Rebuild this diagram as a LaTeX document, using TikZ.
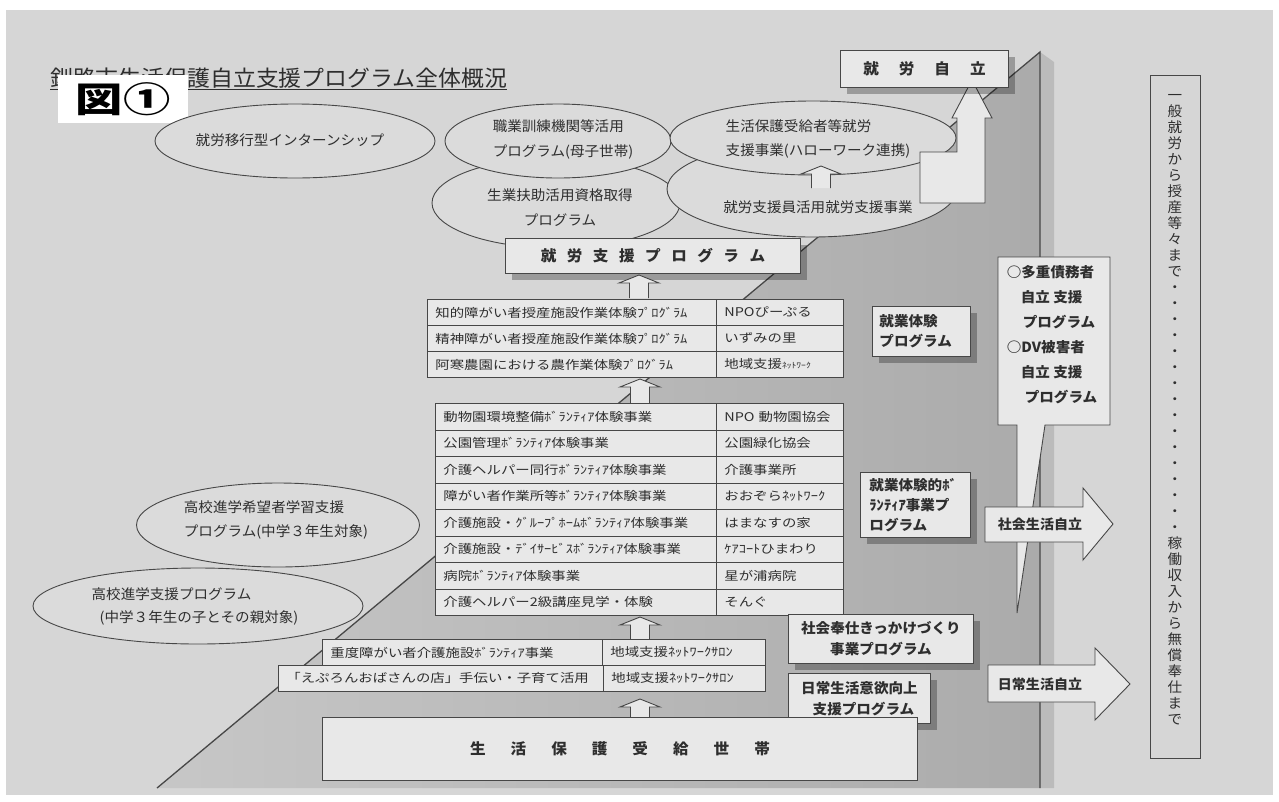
\documentclass[tikz,border=0pt]{standalone}
\usepackage{fontspec}
\setmainfont{Noto Sans CJK JP}[FakeStretch=1.04]
\newfontfamily\tabfont{Noto Sans CJK JP}[FakeStretch=1.2]
\usetikzlibrary{shadows,shapes.geometric}
\definecolor{pagebg}{gray}{0.84}
\definecolor{tria}{gray}{0.78}
\definecolor{trib}{gray}{0.67}
\definecolor{boxc}{gray}{0.91}
\definecolor{ellc}{gray}{0.86}
\definecolor{linec}{gray}{0.28}
\definecolor{txtc}{gray}{0.18}
\newcommand\fsz[2]{\fontsize{#1}{#2}\selectfont}
\newcommand\blkup[3]{\filldraw[blk] (#1-9.5,#2) -- (#1-9.5,#3+8) -- (#1-20,#3+8) -- (#1,#3) -- (#1+20,#3+8) -- (#1+9.5,#3+8) -- (#1+9.5,#2);}
\begin{document}
\begin{tikzpicture}[x=1pt,y=-1pt,
  every node/.style={text=txtc},
  ell/.style={ellipse, draw=linec, fill=ellc, line width=0.9pt, inner sep=0pt},
  etxt/.style={font=\fsz{14}{25}, inner sep=0pt},
  bx/.style={draw=linec, fill=boxc, line width=0.9pt, inner sep=0pt, anchor=north west},
  sbox/.style={bx, drop shadow={shadow xshift=7pt, shadow yshift=-7pt, opacity=0.28, fill=black}},
  btxt/.style={font=\bfseries\fsz{14}{20}},
  blk/.style={draw=linec, fill=boxc, line width=0.9pt, line join=miter},
  cell/.style={draw=linec, fill=boxc, line width=0.8pt, anchor=north west, inner xsep=8pt, inner ysep=0pt, align=left, font=\tabfont\fsz{12}{14}},
  edge/.style={draw=linec, line width=1.3pt}
]
\useasboundingbox (0,0) rectangle (1279,801);
% page
\fill[white] (0,0) rectangle (1279,801);
\fill[pagebg] (6,10) rectangle (1273,795);
% big triangle
\shade[left color=tria, right color=trib] (1040,52) -- (1040,788) -- (157,788) -- cycle;
\fill[black, opacity=0.12] (1040,52) -- (1054,62) -- (1054,788) -- (1040,788) -- cycle;
\coordinate (apex) at (1040,52);
\coordinate (tbl) at (157,788);
\coordinate (tbr) at (1040,788);
\draw[edge] (tbl) -- (apex) -- (tbr);

% right column
\node[bx, fill=pagebg, minimum width=50pt, minimum height=683pt] (rcol) at (1150,75) {};
\node[font=\fsz{14}{16}, align=center, inner sep=0pt] (rcolt) at (1175,410) {一\\般\\就\\労\\か\\ら\\授\\産\\等\\々\\ま\\で\\・\\・\\・\\・\\・\\・\\・\\・\\・\\・\\・\\・\\・\\・\\・\\・\\稼\\働\\収\\入\\か\\ら\\無\\償\\奉\\仕\\ま\\で};

% title
\node[anchor=base west, inner sep=0pt, font=\fsz{22}{22}] (title) at (50,86) {\underline{釧路市生活保護自立支援プログラム全体概況}};
\node[fill=white, anchor=north west, minimum width=130pt, minimum height=48pt, inner sep=0pt, text=black, font=\bfseries\fsz{35}{35}] (zu) at (58,75) {\scalebox{1.3}[1]{図①}};

% ellipses
\node[ell, minimum width=280pt, minimum height=74pt] (e1) at (295,141) {};
\node[etxt] (e1t) at (290,140) {就労移行型インターンシップ};
\node[ell, minimum width=248pt, minimum height=90pt] (e3) at (556,203) {};
\node[etxt, align=center] (e3t) at (560,208) {生業扶助活用資格取得\\プログラム};
\node[ell, minimum width=226pt, minimum height=74pt] (e2) at (558,141) {};
\node[etxt, align=left] (e2t) at (563,139) {職業訓練機関等活用\\プログラム(母子世帯)};
\node[ell, minimum width=290pt, minimum height=96pt] (e5) at (812,189) {};
\node[etxt] (e5t) at (818,207) {就労支援員活用就労支援事業};
\node[ell, minimum width=286pt, minimum height=74pt] (e4) at (813,138) {};
\node[etxt, align=left, font=\fsz{14}{24}] (e4t) at (818,139) {生活保護受給者等就労\\支援事業(ハローワーク連携)};
\blkup{821}{188}{166}

\node[ell, minimum width=283pt, minimum height=84pt] (e6) at (278,525) {};
\node[etxt, align=left, font=\fsz{14}{24}] (e6t) at (276,520) {高校進学希望者学習支援\\プログラム(中学３年生対象)};
\node[ell, minimum width=330pt, minimum height=76pt] (e7) at (198,606) {};
\node[etxt, align=left, font=\fsz{14}{23}] (e7t) at (195,606) {高校進学支援プログラム\\\hspace*{8pt}(中学３年生の子とその親対象)};

% big arrow to 就労自立
\filldraw[blk] (920,203) -- (920,152) -- (957,152) -- (957,118) -- (952,118) -- (972,80) -- (992,118) -- (985,118) -- (985,203) -- cycle;

% 就労自立
\node[sbox, minimum width=168pt, minimum height=37pt, font=\bfseries\fsz{15}{18}] (jiritsu) at (840,50) {就\hspace{20pt}労\hspace{20pt}自\hspace{20pt}立};

% 就労支援プログラム
\node[sbox, minimum width=295pt, minimum height=35pt, font=\bfseries\fsz{15}{18}] (shien) at (505,238) {就\hspace{10.5pt}労\hspace{10.5pt}支\hspace{10.5pt}援\hspace{10.5pt}プ\hspace{10.5pt}ロ\hspace{10.5pt}グ\hspace{10.5pt}ラ\hspace{10.5pt}ム};
\blkup{639}{298}{275}

% table 1
\foreach \l/\r [count=\i from 0] in {知的障がい者授産施設作業体験ﾌﾟﾛｸﾞﾗﾑ/NPOぴーぷる, 精神障がい者授産施設作業体験ﾌﾟﾛｸﾞﾗﾑ/いずみの里, 阿寒農園における農作業体験ﾌﾟﾛｸﾞﾗﾑ/地域支援{\fsz{8}{10}ﾈｯﾄﾜｰｸ}}{
  \node[cell, text width=273pt, minimum height=26pt] (ta\i) at (427,299+26*\i) {\l};
  \node[cell, text width=111pt, minimum height=26pt] (tb\i) at (716,299+26*\i) {\r};
}
\blkup{640}{403}{379}

% table 2
\foreach \l/\r [count=\i from 0] in {動物園環境整備ﾎﾞﾗﾝﾃｨｱ体験事業/NPO 動物園協会, 公園管理ﾎﾞﾗﾝﾃｨｱ体験事業/公園緑化協会, 介護ヘルパー同行ﾎﾞﾗﾝﾃｨｱ体験事業/介護事業所, 障がい者作業所等ﾎﾞﾗﾝﾃｨｱ体験事業/おおぞらﾈｯﾄﾜｰｸ, 介護施設・ｸﾞﾙｰﾌﾟﾎｰﾑﾎﾞﾗﾝﾃｨｱ体験事業/はまなすの家, 介護施設・ﾃﾞｲｻｰﾋﾞｽﾎﾞﾗﾝﾃｨｱ体験事業/ｹｱｺｰﾄひまわり, 病院ﾎﾞﾗﾝﾃｨｱ体験事業/星が浦病院, 介護ヘルパー2級講座見学・体験/そんぐ}{
  \node[cell, text width=265pt, minimum height=26.5pt] (tc\i) at (435,403+26.5*\i) {\l};
  \node[cell, text width=111pt, minimum height=26.5pt] (td\i) at (716,403+26.5*\i) {\r};
}
\blkup{640}{639}{617}

% table 3
\node[cell, text width=264pt, minimum height=26pt] (te0) at (322,639) {重度障がい者介護施設ﾎﾞﾗﾝﾃｨｱ事業};
\node[cell, text width=147pt, minimum height=26pt] (tf0) at (602,639) {地域支援ﾈｯﾄﾜｰｸｻﾛﾝ};
\node[cell, text width=309pt, minimum height=26pt] (te1) at (278,665) {「えぷろんおばさんの店」手伝い・子育て活用};
\node[cell, text width=146pt, minimum height=26pt] (tf1) at (603,665) {地域支援ﾈｯﾄﾜｰｸｻﾛﾝ};
\blkup{640}{717}{699}

% right side boxes
\node[sbox, minimum width=98pt, minimum height=50pt, btxt, align=left, inner xsep=7pt, text width=84pt] (b1) at (872,306) {就業体験\\プログラム};
\node[sbox, minimum width=110pt, minimum height=65pt, btxt, align=left, inner xsep=9pt, text width=92pt] (b2) at (860,472) {就業体験的ﾎﾞ\\ﾗﾝﾃｨｱ事業プ\\ログラム};

% callout
\filldraw[draw=linec, fill=boxc, line width=0.9pt] (998,257) -- (1110,257) -- (1110,425) -- (1045,425) -- (1017,613) -- (1017,425) -- (998,425) -- cycle;
\node[btxt, font=\bfseries\fsz{14}{25}, align=left, inner sep=0pt] (cot) at (1052,335) {○多重債務者\\\hspace*{14pt}自立 支援\\\hspace*{16pt}プログラム\\○DV被害者\\\hspace*{14pt}自立 支援\\\hspace*{18pt}プログラム};

% block arrows right
\filldraw[blk] (985,507) -- (1083,507) -- (1083,488) -- (1113,524) -- (1083,560) -- (1083,542) -- (985,542) -- cycle;
\node[btxt, font=\bfseries\fsz{13.5}{16}, inner sep=0pt] (shakai) at (1040,524) {社会生活自立};
\filldraw[blk] (988,665) -- (1095,665) -- (1095,648) -- (1130,684) -- (1095,720) -- (1095,702) -- (988,702) -- cycle;
\node[btxt, font=\bfseries\fsz{13.5}{16}, inner sep=0pt] (nichijo) at (1040,684) {日常生活自立};

\node[sbox, minimum width=185pt, minimum height=49pt, btxt, align=center, font=\bfseries\fsz{14}{21}] (b3) at (788,614) {社会奉仕きっかけづくり\\事業プログラム};
\node[sbox, minimum width=142pt, minimum height=50pt, btxt, align=center, font=\bfseries\fsz{14}{21}] (b4) at (788,673) {日常生活意欲向上\\\hspace*{8pt}支援プログラム};

% base box
\node[bx, minimum width=595pt, minimum height=63pt, font=\bfseries\fsz{15}{18}] (base) at (322,717) {生\hspace{25pt}活\hspace{25pt}保\hspace{25pt}護\hspace{25pt}受\hspace{25pt}給\hspace{25pt}世\hspace{25pt}帯};
\end{tikzpicture}
\end{document}
